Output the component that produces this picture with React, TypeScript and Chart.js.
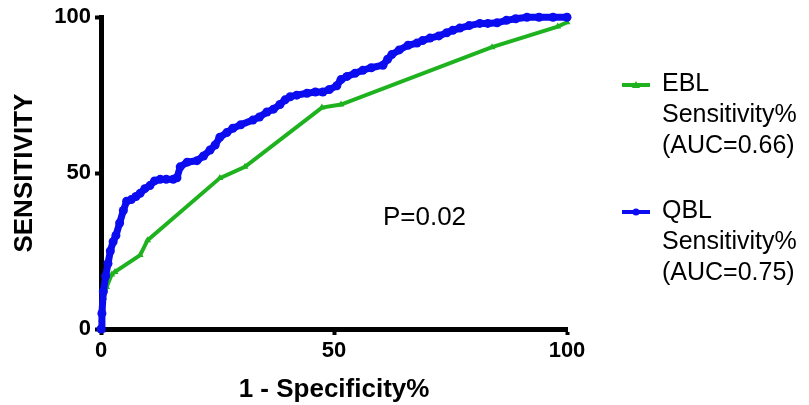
import React, { useEffect, useRef } from "react";
import { Chart, registerables } from "chart.js";

Chart.register(...registerables);

// ROC data: x = 1 - Specificity%, y = Sensitivity%
const QBL_X = [0, 0.2, 0.5, 1, 1.5, 2, 2.6, 3.2, 4, 4.8, 5.5, 6.5, 7.5, 8.4, 9.4, 10.5, 11.5, 12.7, 14, 15.5, 16.3, 17, 18.5, 20.6, 22, 23.4, 24.5, 25.5, 27, 28.3, 30, 32.6, 34, 35.6, 37, 38.4, 39.5, 40.6, 42, 44.2, 46, 47.6, 49, 50.6, 51.5, 52.8, 54.5, 56.2, 58, 60.5, 61.5, 62.4, 64, 65.9, 67.8, 69, 70.6, 72.5, 74.2, 75.5, 77, 79, 81.3, 83, 85, 87, 89, 91.4, 94, 97, 100];
const QBL_Y = [0, 5, 12, 17, 21, 25, 28, 30, 34, 38, 41, 41.5, 42.5, 43.5, 45, 46, 47.5, 48, 48, 48, 48.5, 52, 53.5, 54, 55.5, 57.4, 59, 61.5, 63, 64.4, 65.5, 67, 68, 69.6, 70.5, 72, 73.5, 74.5, 75, 75.6, 76, 76, 76.8, 78, 80, 81, 82, 83, 83.8, 84.6, 86.5, 88, 89.5, 91, 91.7, 92.5, 93.3, 94, 95, 95.8, 96.5, 97.3, 98, 98, 98.2, 99, 99.5, 100, 100, 100, 100];

const EBL_X = [0, 0.1, 0.3, 0.6, 1.2, 2.3, 3, 8.4, 10, 25.5, 30.9, 47.4, 51.5, 83.9, 98, 100, 100];
const EBL_Y = [0, 3, 7, 10, 13.5, 17.5, 18.3, 23.7, 28.5, 48.4, 52, 71, 72, 90.4, 97, 98.4, 100];

const X_TICKS = [0, 50, 100];
const Y_TICKS = [0, 50, 100];

const LEGEND_EBL = ["EBL", "Sensitivity%", "(AUC=0.66)"];
const LEGEND_QBL = ["QBL", "Sensitivity%", "(AUC=0.75)"];
const P_TEXT = "P=0.02";
const P_POS = { x: 60.5, y: 35.6 };

const GREEN = "#1fb21f";
const BLUE = "#0c0cf0";
const FONT = "'Liberation Sans', Arial, Helvetica, sans-serif";

const toPoints = (xs: number[], ys: number[]) => xs.map((x, i) => ({ x, y: ys[i] }));

const overlayPlugin = {
  id: "overlay",
  afterDraw(chart: any) {
    const ctx = chart.ctx;
    const xs = chart.scales.x;
    const ys = chart.scales.y;
    ctx.save();
    // P value annotation
    ctx.fillStyle = "#000";
    ctx.font = `26px ${FONT}`;
    ctx.textAlign = "left";
    ctx.textBaseline = "middle";
    ctx.fillText(P_TEXT, xs.getPixelForValue(P_POS.x), ys.getPixelForValue(P_POS.y));

    // Legend
    const drawEntry = (lines: string[], color: string, y0: number, shape: string) => {
      ctx.strokeStyle = color;
      ctx.lineWidth = 4;
      ctx.beginPath();
      ctx.moveTo(622, y0 + 1);
      ctx.lineTo(650, y0 + 1);
      ctx.stroke();
      ctx.fillStyle = color;
      ctx.beginPath();
      if (shape === "circle") {
        ctx.arc(636, y0 + 1, 3.5, 0, Math.PI * 2);
      } else {
        ctx.moveTo(636, y0 - 3);
        ctx.lineTo(640, y0 + 4);
        ctx.lineTo(632, y0 + 4);
        ctx.closePath();
      }
      ctx.fill();
      ctx.fillStyle = "#000";
      ctx.font = `25px ${FONT}`;
      ctx.textAlign = "left";
      ctx.textBaseline = "middle";
      lines.forEach((t, i) => ctx.fillText(t, 662, y0 + i * 31));
    };
    drawEntry(LEGEND_EBL, GREEN, 84, "triangle");
    drawEntry(LEGEND_QBL, BLUE, 211, "circle");
    ctx.restore();
  },
};

export default function App() {
  const ref = useRef<HTMLCanvasElement>(null);
  useEffect(() => {
    document.body.style.margin = "0";
    const canvas = ref.current!;
    const chart = new Chart(canvas, {
      type: "scatter",
      data: {
        datasets: [
          {
            label: "QBL Sensitivity% (AUC=0.75)",
            data: toPoints(QBL_X, QBL_Y),
            showLine: true,
            borderColor: BLUE,
            backgroundColor: BLUE,
            borderWidth: 7,
            pointStyle: "circle",
            pointRadius: 4.5,
            pointBorderWidth: 0,
            tension: 0,
            clip: false as any,
          },
          {
            label: "EBL Sensitivity% (AUC=0.66)",
            data: toPoints(EBL_X, EBL_Y),
            showLine: true,
            borderColor: GREEN,
            backgroundColor: GREEN,
            borderWidth: 4,
            pointStyle: "triangle",
            pointRadius: 4,
            pointBorderWidth: 0,
            tension: 0,
            clip: false as any,
          },
        ],
      },
      options: {
        responsive: false,
        animation: false,
        layout: { padding: { top: 17, right: 242, bottom: 0, left: 0 } },
        plugins: { legend: { display: false }, tooltip: { enabled: false } },
        scales: {
          x: {
            type: "linear",
            min: 0,
            max: 100,
            afterBuildTicks: (s: any) => {
              s.ticks = X_TICKS.map((v) => ({ value: v }));
            },
            afterFit: (s: any) => {
              s.height = 76;
            },
            ticks: {
              color: "#000",
              font: { family: FONT, size: 22, weight: "bold" },
              padding: 3,
              maxRotation: 0,
            },
            grid: {
              drawOnChartArea: false,
              drawTicks: true,
              tickLength: 6,
              tickWidth: 4,
              tickColor: "#000",
              color: "#000",
            },
            border: { display: true, color: "#000", width: 5 },
            title: {
              display: true,
              text: "1 - Specificity%",
              color: "#000",
              font: { family: FONT, size: 26, weight: "bold", lineHeight: 1.1 },
              padding: { top: 0, bottom: 1 },
            },
          },
          y: {
            type: "linear",
            min: 0,
            max: 100,
            afterBuildTicks: (s: any) => {
              s.ticks = Y_TICKS.map((v) => ({ value: v }));
            },
            afterFit: (s: any) => {
              s.width = 101;
            },
            ticks: {
              color: "#000",
              font: { family: FONT, size: 22, weight: "bold" },
              padding: 4,
            },
            grid: {
              drawOnChartArea: false,
              drawTicks: true,
              tickLength: 6,
              tickWidth: 4,
              tickColor: "#000",
              color: "#000",
            },
            border: { display: true, color: "#000", width: 5 },
            title: {
              display: true,
              text: "SENSITIVITY",
              color: "#000",
              font: { family: FONT, size: 26, weight: "bold", lineHeight: 1.1 },
              padding: { top: 11, bottom: 0 },
            },
          },
        },
      },
      plugins: [overlayPlugin],
    } as any);
    return () => chart.destroy();
  }, []);
  return (
    <div style={{ width: 809, height: 405 }}>
      <canvas ref={ref} width={809} height={405} style={{ display: "block", width: 809, height: 405 }} />
    </div>
  );
}
